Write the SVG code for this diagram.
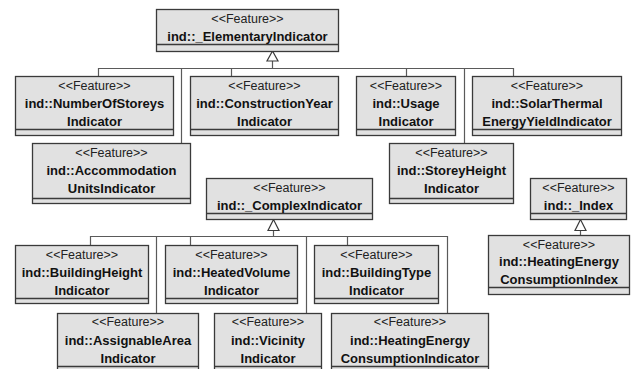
<svg xmlns="http://www.w3.org/2000/svg" width="631" height="369" viewBox="0 0 631 369">
<style>
.box{fill:#e1e1e1;stroke:#3a3a3a;stroke-width:1.3}
.sep{stroke:#3a3a3a;stroke-width:1.3}
.st{font-family:"Liberation Sans",Arial,sans-serif;font-size:12.5px;fill:#222;text-anchor:middle}
.nm{font-family:"Liberation Sans",Arial,sans-serif;font-size:13px;font-weight:bold;fill:#111;text-anchor:middle}
.ln{fill:none;stroke:#5a5a5a;stroke-width:1.2}
.tri{fill:#fff;stroke:#3a3a3a;stroke-width:1.2}
</style>
<rect width="631" height="369" fill="#fff"/>
<g id="connectors">
<path class="ln" d="M272.5,61 V68.5 M98.5,76 V68.5 H513.5 V76 M181.5,68.5 V143 M231.5,68.5 V76 M406.5,68.5 V76 M464.5,68.5 V143"/>
<polygon class="tri" points="272.5,51 267,61 278,61"/>
<path class="ln" d="M273.5,230.5 V236.5 M90.5,245 V236.5 H447.5 V313 M156.5,236.5 V313 M190.5,236.5 V245 M306.5,236.5 V313 M347.5,236.5 V245"/>
<polygon class="tri" points="273.5,219.5 268,230.5 279,230.5"/>
<path class="ln" d="M580.5,230.5 V235.5"/>
<polygon class="tri" points="580.5,219.5 575,230.5 586,230.5"/>
</g>
<g id="ElementaryIndicator">
<rect class="box" x="156.5" y="9.5" width="182" height="42"/>
<line class="sep" x1="156.5" y1="44.5" x2="338.5" y2="44.5"/>
<text class="st" x="247.5" y="22.5">&lt;&lt;Feature&gt;&gt;</text>
<text class="nm" x="247.5" y="40.5">ind::_ElementaryIndicator</text>
</g>
<g id="NumberOfStoreysIndicator">
<rect class="box" x="15.5" y="76.5" width="158" height="59"/>
<line class="sep" x1="15.5" y1="129.5" x2="173.5" y2="129.5"/>
<text class="st" x="94.5" y="89.5">&lt;&lt;Feature&gt;&gt;</text>
<text class="nm" x="94.5" y="107.5">ind::NumberOfStoreys</text>
<text class="nm" x="94.5" y="125.5">Indicator</text>
</g>
<g id="ConstructionYearIndicator">
<rect class="box" x="190.5" y="76.5" width="148" height="59"/>
<line class="sep" x1="190.5" y1="129.5" x2="338.5" y2="129.5"/>
<text class="st" x="264.5" y="89.5">&lt;&lt;Feature&gt;&gt;</text>
<text class="nm" x="264.5" y="107.5">ind::ConstructionYear</text>
<text class="nm" x="264.5" y="125.5">Indicator</text>
</g>
<g id="UsageIndicator">
<rect class="box" x="356.5" y="76.5" width="99" height="59"/>
<line class="sep" x1="356.5" y1="129.5" x2="455.5" y2="129.5"/>
<text class="st" x="406" y="89.5">&lt;&lt;Feature&gt;&gt;</text>
<text class="nm" x="406" y="107.5">ind::Usage</text>
<text class="nm" x="406" y="125.5">Indicator</text>
</g>
<g id="SolarThermalEnergyYieldIndicator">
<rect class="box" x="472.5" y="76.5" width="149" height="59"/>
<line class="sep" x1="472.5" y1="129.5" x2="621.5" y2="129.5"/>
<text class="st" x="547" y="89.5">&lt;&lt;Feature&gt;&gt;</text>
<text class="nm" x="547" y="107.5">ind::SolarThermal</text>
<text class="nm" x="547" y="125.5">EnergyYieldIndicator</text>
</g>
<g id="AccommodationUnitsIndicator">
<rect class="box" x="32.5" y="143.5" width="158" height="60"/>
<line class="sep" x1="32.5" y1="198.5" x2="190.5" y2="198.5"/>
<text class="st" x="111.5" y="156.5">&lt;&lt;Feature&gt;&gt;</text>
<text class="nm" x="111.5" y="174.5">ind::Accommodation</text>
<text class="nm" x="111.5" y="192.5">UnitsIndicator</text>
</g>
<g id="StoreyHeightIndicator">
<rect class="box" x="389.5" y="143.5" width="124" height="60"/>
<line class="sep" x1="389.5" y1="198.5" x2="513.5" y2="198.5"/>
<text class="st" x="451.5" y="156.5">&lt;&lt;Feature&gt;&gt;</text>
<text class="nm" x="451.5" y="174.5">ind::StoreyHeight</text>
<text class="nm" x="451.5" y="192.5">Indicator</text>
</g>
<g id="ComplexIndicator">
<rect class="box" x="206.5" y="178.5" width="166" height="41"/>
<line class="sep" x1="206.5" y1="213.5" x2="372.5" y2="213.5"/>
<text class="st" x="289.5" y="191.5">&lt;&lt;Feature&gt;&gt;</text>
<text class="nm" x="289.5" y="209.5">ind::_ComplexIndicator</text>
</g>
<g id="Index">
<rect class="box" x="530.5" y="178.5" width="96" height="41"/>
<line class="sep" x1="530.5" y1="213.5" x2="626.5" y2="213.5"/>
<text class="st" x="578.5" y="191.5">&lt;&lt;Feature&gt;&gt;</text>
<text class="nm" x="578.5" y="209.5">ind::_Index</text>
</g>
<g id="HeatingEnergyConsumptionIndex">
<rect class="box" x="488.5" y="235.5" width="141" height="59"/>
<line class="sep" x1="488.5" y1="287.5" x2="629.5" y2="287.5"/>
<text class="st" x="559" y="248.5">&lt;&lt;Feature&gt;&gt;</text>
<text class="nm" x="559" y="266">ind::HeatingEnergy</text>
<text class="nm" x="559" y="283.5">ConsumptionIndex</text>
</g>
<g id="BuildingHeightIndicator">
<rect class="box" x="15.5" y="245.5" width="133" height="58"/>
<line class="sep" x1="15.5" y1="298.5" x2="148.5" y2="298.5"/>
<text class="st" x="82" y="258.5">&lt;&lt;Feature&gt;&gt;</text>
<text class="nm" x="82" y="276.5">ind::BuildingHeight</text>
<text class="nm" x="82" y="294.5">Indicator</text>
</g>
<g id="HeatedVolumeIndicator">
<rect class="box" x="165.5" y="245.5" width="132" height="58"/>
<line class="sep" x1="165.5" y1="298.5" x2="297.5" y2="298.5"/>
<text class="st" x="231.5" y="258.5">&lt;&lt;Feature&gt;&gt;</text>
<text class="nm" x="231.5" y="276.5">ind::HeatedVolume</text>
<text class="nm" x="231.5" y="294.5">Indicator</text>
</g>
<g id="BuildingTypeIndicator">
<rect class="box" x="314.5" y="245.5" width="124" height="58"/>
<line class="sep" x1="314.5" y1="298.5" x2="438.5" y2="298.5"/>
<text class="st" x="376.5" y="258.5">&lt;&lt;Feature&gt;&gt;</text>
<text class="nm" x="376.5" y="276.5">ind::BuildingType</text>
<text class="nm" x="376.5" y="294.5">Indicator</text>
</g>
<g id="AssignableAreaIndicator">
<rect class="box" x="57.5" y="313.5" width="141" height="60"/>
<line class="sep" x1="57.5" y1="366.5" x2="198.5" y2="366.5"/>
<text class="st" x="128" y="326">&lt;&lt;Feature&gt;&gt;</text>
<text class="nm" x="128" y="344.5">ind::AssignableArea</text>
<text class="nm" x="128" y="362.5">Indicator</text>
</g>
<g id="VicinityIndicator">
<rect class="box" x="214.5" y="313.5" width="107" height="60"/>
<line class="sep" x1="214.5" y1="366.5" x2="321.5" y2="366.5"/>
<text class="st" x="268" y="326">&lt;&lt;Feature&gt;&gt;</text>
<text class="nm" x="268" y="344.5">ind::Vicinity</text>
<text class="nm" x="268" y="362.5">Indicator</text>
</g>
<g id="HeatingEnergyConsumptionIndicator">
<rect class="box" x="331.5" y="313.5" width="157" height="60"/>
<line class="sep" x1="331.5" y1="366.5" x2="488.5" y2="366.5"/>
<text class="st" x="410" y="326">&lt;&lt;Feature&gt;&gt;</text>
<text class="nm" x="410" y="344.5">ind::HeatingEnergy</text>
<text class="nm" x="410" y="362.5">ConsumptionIndicator</text>
</g>
</svg>
